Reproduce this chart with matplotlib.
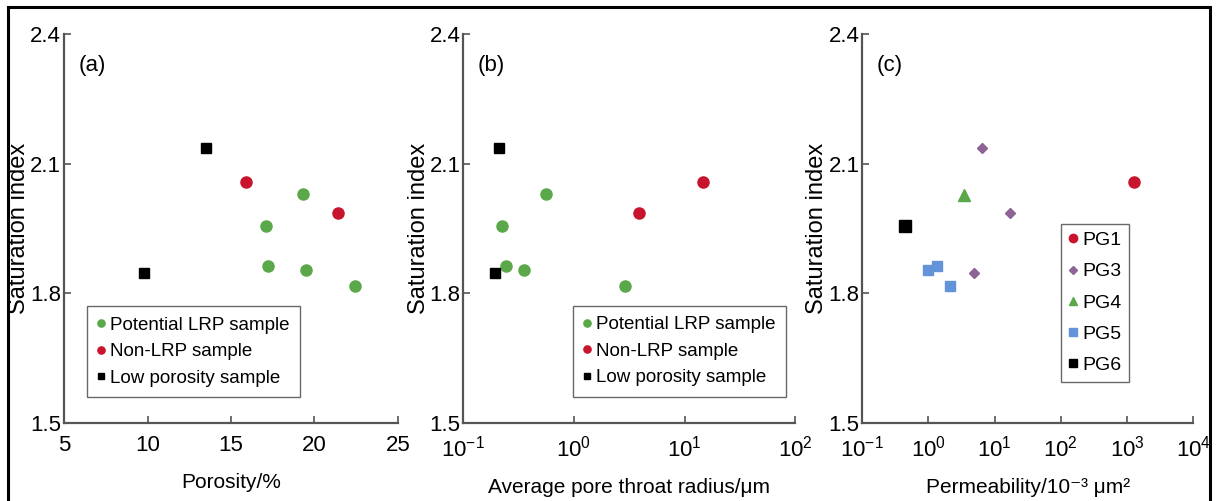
import matplotlib
matplotlib.use("Agg")
import matplotlib.pyplot as plt
from matplotlib.patches import Rectangle

plt.rcParams['font.family'] = ['Liberation Sans', 'DejaVu Sans']
plt.rcParams['mathtext.fontset'] = 'custom'
plt.rcParams['mathtext.rm'] = 'Liberation Sans'
plt.rcParams['mathtext.it'] = 'Liberation Sans'

# panel (a) porosity / %
por_lrp = [19.3, 17.1, 17.2, 19.5, 22.4]
por_non = [15.9, 21.4]
por_low = [13.5, 9.8]

# panel (b) average pore throat radius / um
rad_lrp = [0.56, 0.225, 0.245, 0.35, 2.9]
rad_non = [14.7, 3.9]
rad_low = [0.211, 0.193]

si_lrp = [2.029, 1.956, 1.864, 1.854, 1.817]
si_non = [2.057, 1.986]
si_low = [2.137, 1.846]

# panel (c) permeability groups
pg1_k, pg1_si = [1270], [2.057]
pg3_k, pg3_si = [6.4, 16.8, 4.8], [2.137, 1.986, 1.846]
pg4_k, pg4_si = [3.4], [2.027]
pg5_k, pg5_si = [0.97, 1.36, 2.09], [1.854, 1.864, 1.817]
pg6_k, pg6_si = [0.45], [1.956]

GREEN = "#5aa84a"
RED = "#c8142c"
PURPLE = "#8e6395"
BLUE = "#6393d8"
AXC = "#555555"

fig = plt.figure(figsize=(12.17, 5.01), dpi=100)
fig.patches.append(Rectangle((0.0066, -0.01), 0.9877, 0.996, transform=fig.transFigure,
                             fill=False, edgecolor="black", linewidth=2.2))

boxes = [[0.0526, 0.1557, 0.2744, 0.7764],
         [0.3807, 0.1557, 0.2728, 0.7764],
         [0.7085, 0.1557, 0.2720, 0.7764]]
axes = [fig.add_axes(b) for b in boxes]


def style(ax, xlabel, tag):
    for s in ["top", "right"]:
        ax.spines[s].set_visible(False)
    for s in ["left", "bottom"]:
        ax.spines[s].set_color(AXC)
        ax.spines[s].set_linewidth(1.6)
    ax.tick_params(direction="in", length=5, width=1.2, color=AXC, labelsize=16)
    ax.tick_params(axis="x", pad=9)
    ax.tick_params(axis="y", pad=2)
    ax.tick_params(which="minor", length=0)
    ax.set_ylim(1.5, 2.4)
    ax.set_yticks([1.5, 1.8, 2.1, 2.4])
    ax.set_yticklabels(["1.5", "1.8", "2.1", "2.4"])
    ax.set_ylabel("Saturation index", fontsize=17, labelpad=0)
    ax.set_xlabel(xlabel, fontsize=15, labelpad=12)
    ax.text(0.084, 0.918, tag, transform=ax.transAxes, fontsize=16, ha="center", va="center")


leg_kw = dict(loc="lower left", fontsize=13.5, handlelength=0.4, handletextpad=0.3,
              frameon=True, fancybox=False, edgecolor="#444444", borderaxespad=0)

ms = 8
ax = axes[0]
ax.plot(por_lrp, si_lrp, "o", color=GREEN, ms=ms, label="Potential LRP sample")
ax.plot(por_non, si_non, "o", color=RED, ms=ms, label="Non-LRP sample")
ax.plot(por_low, si_low, "s", color="black", ms=6.5, label="Low porosity sample")
ax.set_xlim(5, 25)
ax.set_xticks([5, 10, 15, 20, 25])
style(ax, "Porosity/%", "(a)")
ax.legend(bbox_to_anchor=(0.068, 0.067), markerscale=0.65, borderpad=0.55,
          labelspacing=0.5, **leg_kw)

ax = axes[1]
ax.plot(rad_lrp, si_lrp, "o", color=GREEN, ms=ms, label="Potential LRP sample")
ax.plot(rad_non, si_non, "o", color=RED, ms=ms, label="Non-LRP sample")
ax.plot(rad_low, si_low, "s", color="black", ms=6.5, label="Low porosity sample")
ax.set_xscale("log")
ax.set_xlim(0.1, 100)
ax.set_xticks([0.1, 1, 10, 100])
ax.set_xticklabels(["$10^{-1}$", "$10^{0}$", "$10^{1}$", "$10^{2}$"])
style(ax, "Average pore throat radius/\u03bcm", "(b)")
ax.legend(bbox_to_anchor=(0.33, 0.068), markerscale=0.65, borderpad=0.55,
          labelspacing=0.5, **leg_kw)

ax = axes[2]
ax.plot(pg1_k, pg1_si, "o", color=RED, ms=ms, label="PG1")
ax.plot(pg3_k, pg3_si, "D", color=PURPLE, ms=5.5, label="PG3")
ax.plot(pg4_k, pg4_si, "^", color=GREEN, ms=8, label="PG4")
ax.plot(pg5_k, pg5_si, "s", color=BLUE, ms=7.5, label="PG5")
ax.plot(pg6_k, pg6_si, "s", color="black", ms=8, label="PG6")
ax.set_xscale("log")
ax.set_xlim(0.1, 10000)
ax.set_xticks([0.1, 1, 10, 100, 1000, 10000])
ax.set_xticklabels(["$10^{-1}$", "$10^{0}$", "$10^{1}$", "$10^{2}$", "$10^{3}$", "$10^{4}$"])
style(ax, "Permeability/10\u207b\u00b3 \u03bcm\u00b2", "(c)")
kw_c = dict(leg_kw, fontsize=14)
ax.legend(bbox_to_anchor=(0.60, 0.106), markerscale=0.75, borderpad=0.4,
          labelspacing=0.7, **kw_c)

fig.savefig("out.png", dpi=100)
plt.close()
